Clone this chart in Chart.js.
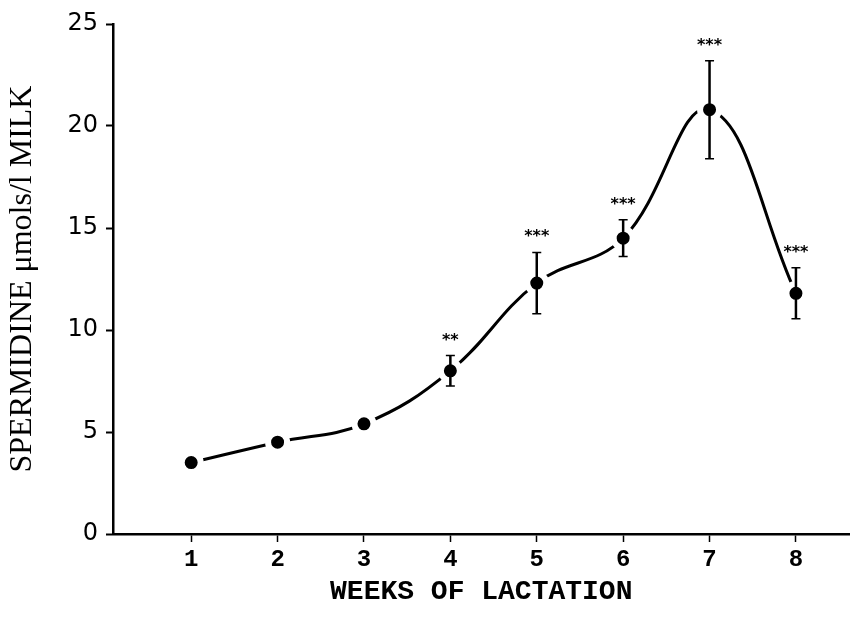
<!DOCTYPE html>
<html>
<head>
<meta charset="utf-8">
<script src="https://cdn.jsdelivr.net/npm/chart.js@4"></script>
<style>
  html, body { margin: 0; padding: 0; background: #fff; }
  #wrap { width: 865px; height: 620px; }
</style>
</head>
<body>
<div id="wrap"><canvas id="chart"></canvas></div>
<script>
// values
const weeks = [1, 2, 3, 4, 5, 6, 7, 8];
const spermidine = [3.5, 4.5, 5.4, 8.0, 12.3, 14.5, 20.8, 11.8];
const sem = [0, 0, 0, 0.75, 1.5, 0.9, 2.4, 1.25];
const stars = ['', '', '', '**', '***', '***', '***', '***'];
const yTicks = [0, 5, 10, 15, 20, 25];

// error bars + significance stars drawn on top of the line
const errorBars = {
    id: 'errorBars',
    afterDatasetsDraw(chart) {
        const ctx = chart.ctx;
        const xs = chart.scales.x;
        const ys = chart.scales.y;
        ctx.save();
        ctx.strokeStyle = '#000';
        ctx.fillStyle = '#000';
        weeks.forEach((w, i) => {
            const x = xs.getPixelForValue(w);
            const top = ys.getPixelForValue(spermidine[i] + sem[i]);
            const bot = ys.getPixelForValue(spermidine[i] - sem[i]);
            if (sem[i] > 0) {
                ctx.lineWidth = 2.5;
                ctx.beginPath();
                ctx.moveTo(x, top);
                ctx.lineTo(x, bot);
                ctx.stroke();
                ctx.lineWidth = 1.5;
                ctx.beginPath();
                ctx.moveTo(x - 4.5, top);
                ctx.lineTo(x + 4.5, top);
                ctx.moveTo(x - 4.5, bot);
                ctx.lineTo(x + 4.5, bot);
                ctx.stroke();
            }
            if (stars[i]) {
                ctx.font = 'bold 16px "DejaVu Sans"';
                ctx.textAlign = 'center';
                ctx.textBaseline = 'alphabetic';
                ctx.fillText(stars[i], x, top - 20 + 9);
            }
        });
        ctx.restore();
    }
};

const ctx = document.getElementById('chart').getContext('2d');
const spermChart = new Chart(ctx, {
    type: 'line',
    data: {
        datasets: [{
            data: weeks.map((w, i) => ({ x: w, y: spermidine[i] })),
            borderColor: '#000',
            borderWidth: 3,
            tension: 0.4,
            pointRadius: 9.5,
            pointBackgroundColor: '#000',
            pointBorderColor: '#fff',
            pointBorderWidth: 6
        }]
    },
    options: {
        responsive: true,
        maintainAspectRatio: false,
        animation: false,
        events: [],
        layout: { padding: { top: 24, right: 5, left: 0, bottom: 0 } },
        plugins: {
            legend: { display: false },
            tooltip: { enabled: false }
        },
        scales: {
            x: {
                type: 'linear',
                min: 0.095,
                max: 8.62,
                afterBuildTicks: (scale) => { scale.ticks = weeks.map(v => ({ value: v })); },
                afterFit: (scale) => { scale.height = 86; },
                border: { display: true, color: '#000', width: 2.5 },
                grid: { drawOnChartArea: false, drawTicks: true, tickLength: 8, tickColor: '#000', tickWidth: 1.5 },
                ticks: {
                    color: '#000',
                    padding: 4,
                    font: { family: '"Liberation Mono"', weight: 'bold', size: 24 }
                },
                title: {
                    display: true,
                    text: 'WEEKS OF LACTATION',
                    color: '#000',
                    padding: { top: 4, bottom: 11 },
                    font: { family: '"Liberation Mono"', weight: 'bold', size: 28 }
                }
            },
            y: {
                min: 0,
                max: 25,
                afterBuildTicks: (scale) => { scale.ticks = yTicks.map(v => ({ value: v })); },
                afterFit: (scale) => { scale.width = 113; },
                border: { display: true, color: '#000', width: 2.5 },
                grid: { drawOnChartArea: false, drawTicks: true, tickLength: 7, tickColor: '#000', tickWidth: 2 },
                ticks: {
                    color: '#000',
                    padding: 8,
                    font: { family: '"DejaVu Sans"', size: 24 }
                },
                title: {
                    display: true,
                    text: 'SPERMIDINE μmols/l MILK',
                    color: '#000',
                    padding: { top: 3, bottom: 0 },
                    font: { family: '"Liberation Serif"', size: 32 }
                }
            }
        }
    },
    plugins: [errorBars]
});
</script>
</body>
</html>
